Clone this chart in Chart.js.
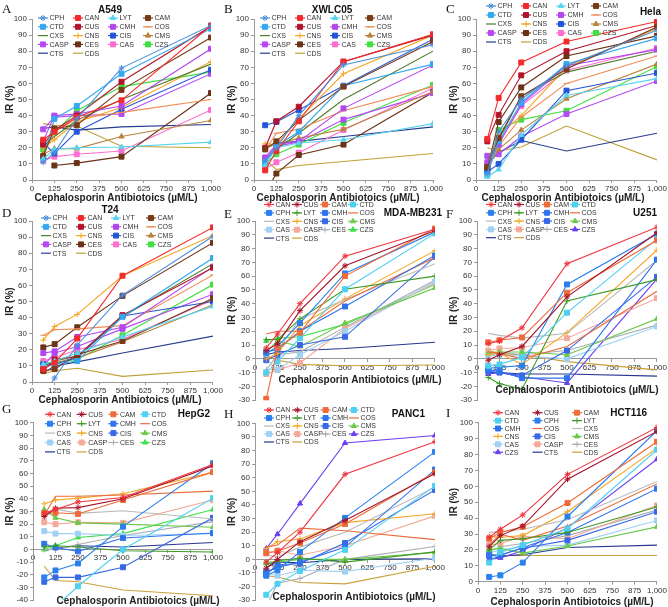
<!DOCTYPE html>
<html>
<head>
<meta charset="utf-8">
<script src="https://cdn.jsdelivr.net/npm/chart.js@4.4.1/dist/chart.umd.min.js"></script>
<style>
html, body { margin: 0; padding: 0; background: #fff; }
body { width: 668px; height: 607px; position: relative; overflow: hidden; }
canvas { position: absolute; }
</style>
</head>
<body>
<script>
// doses (µM/L) used on every panel
var doses = [62.5, 125, 250, 500, 1000];
var xTicks = [0, 125, 250, 375, 500, 625, 750, 875, 1000];

// legend orders
var namesAD = ["CPH", "CAN", "LYT", "CAM", "CTD", "CUS", "CMH", "COS", "CXS", "CNS", "CIS", "CMS", "CASP", "CES", "CAS", "CZS", "CTS", "CDS"];
var namesEI = ["CAN", "CUS", "CAM", "CTD", "CPH", "LYT", "CMH", "COS", "CXS", "CNS", "CIS", "CMS", "CAS", "CASP", "CES", "CZS", "CTS", "CDS"];

// IR (%) per cell line, rows follow the legend order of the panel
var irA549 = [
  [11, 17, 38, 69.5, 96], [25, 30, 39, 49.5, 96], [13, 19, 20, 20.5, 23.5], [15, 32, 34, 56, 88.5],
  [14, 38, 46, 66, 94], [22, 31, 40, 61, 95.5], [24, 40, 41, 46, 81.5], [15, 30, 38, 42, 50],
  [21, 27, 37, 50, 72], [20, 25, 36, 45, 73.5], [23, 16.5, 30, 44, 68.5], [16, 19.5, 19.5, 27, 37],
  [31.5, 39, 40, 41, 66], [null, 9, 10.5, 14.5, 54], [12, 14.5, 16, 18, 43.5], [19, 29.5, 43, 58, 67],
  [32, 33, 31, 33, 34.5], [35, 34, 33.5, 21, 20]
];
var irXWLC05 = [
  [12, 20, 40, 71.5, 84], [6, 18, 36.5, 73.5, 90.5], [9, 20, 23, 25, 35], [19, 24, 37, 58, 86],
  [11, 21, 30, 58.5, 72], [20, 36.5, 45.5, 73.5, 90], [14, 22, 24, 44.5, 71.5], [18.5, 29, 31.5, 43, 58],
  [12, 19, 29, 50, 80], [22.5, 22, 38, 66, 90], [34, 36, 43.5, 58.5, 87.5], [20, 22, 26, 31.5, 55],
  [13, 21, 23.5, 37.5, 54], [-8, 4, 15.5, 22, 54.5], [7, 11, 17, 31, 57], [10, 16, 22, 35.5, 59],
  [20, 23, 24, 27, 33], [13, 6.5, 9, 11.5, 16.5]
];
var irHela = [
  [4, 30, 50, 71, 93], [25.5, 51, 73, 86, 98.5], [2, 6.5, 28, 52.5, 63], [8, 26, 52, 69, 95],
  [3, 24, 48, 72, 88], [24, 40.5, 65, 80, 96], [11, 22, 47, 71, 81], [9, 21, 39, 60, 77],
  [12, 25, 52, 67, 80], [10, 28, 40, 70, 94], [5, 10, 25, 55.5, 66.5], [8, 19, 31, 50.5, 72],
  [15, 16, 27, 41, 61.5], [7, 36, 57.5, 77, 89.5], [9, 23, 46, 68, 82], [6, 31, 37.5, 43, 70.5],
  [10, 17, 24.5, 18, 29], [20, 18, 20.5, 33.5, 12.5]
];
var irT24 = [
  [-8, 2.5, 23, 54, 90.5], [8, 12, 27, 66, 96], [11, 13, 18, 28, 47], [7, 8, 17, 25.5, 52],
  [9, 11, 13, 40.5, 77], [7, 14, 16, 41.5, 71], [18, 19, 28, 34, 71.5], [29, 32.5, 33, 35, 66.5],
  [10, 13, 16, 40.5, 73.5], [26, 34.5, 42, 66, 91], [11, 11, 15, 41, 50], [9, 12, 15, 25, 48],
  [10, 18, 22, 33, 54.5], [21.5, 23.5, 34, 53.5, 86.5], [13, 15, 20, 26.5, 51], [12, 12, 14, 29, 60.5],
  [5.5, 10, 12.5, 18, 28.5], [5, 7, 8.5, 3.5, 7.5]
];
var irMDA = [
  [8, 18, 40, 74.5, 94], [6, 11, 35, 67.5, 93], [-29, 8, 19, 60, 94.5], [-10, -2, 15, 50.5, 91],
  [4, 9, 26, 62, 92], [14, 14, 29, 50.5, 60], [5, 7, 20, 38, 75], [18, 20, 20, 42, 73.5],
  [6, 6, 29, 43, 69], [0, 4, 24, 43.5, 78.5], [-1, 3, 10, 16, 74], [5, 13, 9, 26, 51.5],
  [0, -8, 3, 20, 56], [-11, -8, -3, 22, 55], [-8, 3, 5, 23, 57], [13, 15, 16, 25, 54],
  [3, 5, 6, 7.5, 12], [2, -1, -4, -5, -4.5]
];
var irU251 = [
  [11, 13, 22.5, 69, 95.5], [-1, 3, 9, 45, 91.5], [12, 13.5, 15.5, 48, 86], [-5, -4, 1, 33.5, 87],
  [-7, -6, -5, 54, 90.5], [-13.5, -18, -22, 42, 57.5], [-8, -9, -14, -14, 72], [5, 4, 0, 9, 49],
  [18.5, 17, 15, 18.5, 71.5], [3, 4, -4, 19, 79], [-9, -10, -12, 6, 59.5], [4, 5, 5, 3, 29],
  [2, 3, 2, 0, 23.5], [6, 7.5, 8, 15, 44], [3, 5, 3, 6, 24.5], [-11, -10, -13, -17.5, 58],
  [-10, -10, -11, -11, -12.5], [6, 4, 3, -2, -8]
];
var irHepG2 = [
  [29, 31.5, 37.5, 41, 67], [26, 32.5, 33, 40, 66], [28.5, 29, 28, 39, 61], [-55, -45, -29, 0, 40.5],
  [-22, -16.5, -11, 18, 68], [2, 3, 2, -1, -2], [4.5, 1.5, -1.5, 9, 13], [27, 42, 42, 43, 46],
  [25, 32, 28.5, 30.5, 24], [36, 39, 40.5, 44, 61], [-25.5, -22, -22, -14, 25], [31.5, 25, 21, 20, 17.5],
  [14.5, 12.5, 12.5, 11, 12.5], [21.5, 20, 21.5, 21, 39], [0, 0, 4, 11, 22], [0, 3, 9.5, 12.5, 31.5],
  [-1, 1, 3, 2, 5.5], [-13, -24.5, -25.5, -32, -36.5]
];
var irPANC1 = [
  [-2, 5, 20, 62.5, 86.5], [-6.5, 0, 13, 28.5, 63], [4.5, 6, 12, 26, 64], [-26, -18, -8.5, 7, 54],
  [-12, -8, 5.5, 30.5, 79], [-4, -1, 1, -2, 5.5], [-9, -6, -2, 9, 66], [9, 10.5, 23, 21, 14.5],
  [3, 2, 9, 20, 53], [8, 13, 15, 27, 33.5], [-11, -4, -3, 12, 51], [-2, -2, 0, 0, 5],
  [-10, -12, -8, -9, 1], [5, 6.5, 3, 10, 32], [-35, -17.5, -14, 0, 9.5], [8, 18.5, 41, 85.5, 91],
  [-6, -2, -2.5, 0, 0.5], [-12, -13, -17, -18, -5]
];
var irHCT116 = [
  [28, 33, 42, 67.5, 97], [22, 29, 35, 64.5, 94.5], [27, 31, 34.5, 49.5, 88], [12, 18.5, 23, 33.5, 83],
  [3, 4, 12, 41, 95], [20, 26, 27, 31, 47], [17, 16.5, 21.5, 31, 58.5], [23, 30, 26, 35, 61.5],
  [31, 31.5, 33, 39, 63], [28.5, 28, 29, 44, 84], [16, 17, 21, 26, 44], [20, 21, 18, 22.5, 34.5],
  [18, 20, 22, 23, 38.5], [23, 24, 28.5, 27, 48], [19, 22, 24, 29, 45], [14, 15, 19.5, 34, 77],
  [14, 16, 17, 21.5, 23], [17, 16.5, 16.5, 16.5, 16.5]
];

// colour + marker per drug
var styleAD = {
  CPH: ["#4b8fdf", "star"], CAN: ["#f42b2b", "rect"], LYT: ["#59d3f0", "triangle"], CAM: ["#7b3a18", "rect"],
  CTD: ["#35a8ef", "rect"], CUS: ["#b1142c", "rect"], CMH: ["#b446ee", "rect"], COS: ["#ef8c55", "line"],
  CXS: ["#4e7d2d", null], CNS: ["#f4a622", "cross"], CIS: ["#2656d6", "rect"], CMS: ["#b8843c", "triangle"],
  CASP: ["#b44af4", "rect"], CES: ["#6a3216", "rect"], CAS: ["#fd6ecf", "rect"], CZS: ["#3fe03f", "rect"],
  CTS: ["#253b90", null], CDS: ["#bfa037", null]
};
var styleEI = {
  CAN: ["#f0323c", "star"], CUS: ["#a5142a", "star"], CAM: ["#ef6b3b", "rect"], CTD: ["#4fd0f0", "rect"],
  CPH: ["#2b80ee", "rect"], LYT: ["#3b9a22", "cross"], CMH: ["#2f73ee", "rect"], COS: ["#ec6b3c", null],
  CXS: ["#b9b9b9", null], CNS: ["#f4a724", "cross"], CIS: ["#3868e6", "rect"], CMS: ["#6cc94a", "triangle"],
  CAS: ["#9fd1f3", "rect"], CASP: ["#f4a999", "rect"], CES: ["#a8aeb6", "cross"], CZS: ["#3fdf4d", "triangle"],
  CTS: ["#27368f", null], CDS: ["#c9a037", null]
};
var styleEIp = Object.assign({}, styleEI, { CZS: ["#6b3ff0", "triangle"] });

var FONT = "Arial, 'Liberation Sans', sans-serif";
var XTITLE = "Cephalosporin Antibiotoics (\u00b5M/L)";

var panels = [
  { letter: "A", lx: 0, ly: 0, h: 205, names: namesAD, pal: styleAD, vals: irA549, title: "A549", t: [110, 10, "center"], ymin: 0, area: [32, 19, 211, 180], zero: false, xt: [116, 198], leg: [38, 18, 35, 8.8, 4], lb: 13 },
  { letter: "B", lx: 222, ly: 0, h: 205, names: namesAD, pal: styleAD, vals: irXWLC05, title: "XWLC05", t: [110, 10, "center"], ymin: 0, area: [32, 19, 211, 180], zero: false, xt: [116, 198], leg: [38, 18, 35, 8.8, 4], lb: 13 },
  { letter: "C", lx: 444, ly: 0, h: 205, names: namesAD, pal: styleAD, vals: irHela, title: "Hela", t: [217, 12, "right"], ymin: 0, area: [32, 19, 213, 180], zero: false, xt: [119, 198], leg: [42, 6, 35, 9, 4], lb: 13 },
  { letter: "D", lx: 0, ly: 200, h: 207, names: namesAD, pal: styleAD, vals: irT24, title: "T24", t: [110, 10, "center"], ymin: 0, area: [32, 21, 213, 182], zero: false, xt: [120, 200], leg: [41, 18, 35, 8.8, 4], lb: 17 },
  { letter: "E", lx: 222, ly: 200, h: 207, names: namesEI, pal: styleEI, vals: irMDA, title: "MDA-MB231", t: [220, 13, "right"], ymin: -30, area: [33, 21, 213, 200.5], zero: true, xt: [138, 180], leg: [42, 4.5, 28, 8.4, 4], lb: 18 },
  { letter: "F", lx: 444, ly: 200, h: 207, names: namesEI, pal: styleEIp, vals: irU251, title: "U251", t: [213, 13, "right"], ymin: -30, area: [33, 21, 213, 200.5], zero: true, xt: [133, 190], leg: [42, 4.5, 28, 8.3, 4], lb: 18 },
  { letter: "G", lx: 0, ly: 400, h: 207, names: namesEI, pal: styleEI, vals: irHepG2, title: "HepG2", t: [210, 14, "right"], ymin: -40, area: [33, 22.7, 213, 201.7], zero: true, xt: [138, 201], leg: [45, 14.3, 31.7, 9.4, 4], lb: 13 },
  { letter: "H", lx: 222, ly: 400, h: 207, names: namesEI, pal: styleEIp, vals: irPANC1, title: "PANC1", t: [203, 14, "right"], ymin: -30, area: [33, 23.3, 213, 201.7], zero: true, xt: [132, 197], leg: [42, 10, 28.3, 8, 4], lb: 18 },
  { letter: "I", lx: 444, ly: 400, h: 207, names: namesEI, pal: styleEIp, vals: irHCT116, title: "HCT116", t: [203, 13, "right"], ymin: 0, area: [34, 22.7, 213, 181.7], zero: false, xt: [128, 202], leg: [49, 12.7, 39.5, 7.9, 3], lb: 17 }
];

function pointRadius(style) {
  if (!style) return 0;
  if (style === "rect") return 3.5;
  return 3;
}

function drawMarker(ctx, style, x, y, color) {
  if (!style) return;
  ctx.save();
  ctx.fillStyle = color;
  ctx.strokeStyle = color;
  ctx.lineWidth = 1;
  Chart.helpers.drawPoint(ctx, { pointStyle: style, rotation: 0, radius: pointRadius(style), borderWidth: 1 }, x, y);
  ctx.restore();
}

function decorPlugin(p) {
  return {
    id: "decor" + p.letter,
    afterDraw: function (chart) {
      var ctx = chart.ctx;
      var ca = chart.chartArea;
      ctx.save();
      // panel letter
      ctx.fillStyle = "#111";
      ctx.font = "13px 'Times New Roman', 'Liberation Serif', serif";
      ctx.textAlign = "left";
      ctx.textBaseline = "alphabetic";
      ctx.fillText(p.letter, 2, p.lb);
      // cell line title
      ctx.font = "bold 10px " + FONT;
      ctx.textAlign = p.t[2];
      ctx.textBaseline = "middle";
      ctx.fillText(p.title, p.t[0], p.t[1]);
      // axis titles
      ctx.font = "bold 10px " + FONT;
      ctx.textAlign = "center";
      ctx.fillStyle = "#222";
      ctx.fillText(XTITLE, p.xt[0], p.xt[1]);
      ctx.save();
      ctx.translate(10, (ca.top + ca.bottom) / 2);
      ctx.rotate(-Math.PI / 2);
      ctx.fillText("IR (%)", 0, 0);
      ctx.restore();
      // legend grid
      var lg = p.leg;
      ctx.font = "7px " + FONT;
      ctx.textAlign = "left";
      ctx.textBaseline = "middle";
      p.names.forEach(function (n, i) {
        var st = p.pal[n];
        var col = i % lg[4], row = Math.floor(i / lg[4]);
        var x = lg[0] + col * lg[2], y = lg[1] + row * lg[3];
        ctx.strokeStyle = st[0];
        ctx.lineWidth = 1.2;
        ctx.beginPath();
        ctx.moveTo(x, y);
        ctx.lineTo(x + 10, y);
        ctx.stroke();
        drawMarker(ctx, st[1], x + 5, y, st[0]);
        ctx.fillStyle = "#333";
        ctx.fillText(n, x + 11.5, y + 0.5);
      });
      ctx.restore();
    }
  };
}

panels.forEach(function (p) {
  var w = 224;
  var cv = document.createElement("canvas");
  cv.width = w;
  cv.height = p.h;
  cv.style.left = p.lx + "px";
  cv.style.top = p.ly + "px";
  cv.style.width = w + "px";
  cv.style.height = p.h + "px";
  document.body.appendChild(cv);

  var datasets = p.names.map(function (n, i) {
    var st = p.pal[n];
    return {
      label: n,
      data: doses.map(function (d, j) { return { x: d, y: p.vals[i][j] }; }),
      borderColor: st[0],
      backgroundColor: st[0],
      borderWidth: 1.1,
      pointStyle: st[1] || "circle",
      pointRadius: pointRadius(st[1]),
      pointBorderWidth: 1,
      tension: 0,
      spanGaps: false
    };
  });

  var tickFont = { family: FONT, size: 8 };
  new Chart(cv, {
    type: "line",
    data: { datasets: datasets },
    options: {
      responsive: false,
      animation: false,
      events: [],
      layout: { padding: { left: 0, top: p.area[1], right: w - p.area[2], bottom: 0 } },
      plugins: { legend: { display: false }, title: { display: false }, tooltip: { enabled: false } },
      scales: {
        x: {
          type: "linear",
          position: p.zero ? { y: 0 } : "bottom",
          min: 0, max: 1000,
          afterBuildTicks: function (s) { s.ticks = xTicks.map(function (v) { return { value: v }; }); },
          ticks: { font: tickFont, color: "#333", autoSkip: false, maxRotation: 0, padding: 1 },
          grid: { drawOnChartArea: false, drawTicks: true, tickLength: 3, color: "#999" },
          border: { color: "#999" },
          afterFit: function (s) { s.height = p.h - p.area[3]; }
        },
        y: {
          min: p.ymin, max: 100,
          ticks: { stepSize: 10, font: tickFont, color: "#333", autoSkip: false, padding: 2 },
          grid: { drawOnChartArea: false, drawTicks: true, tickLength: 3, color: "#999" },
          border: { color: "#999" },
          afterFit: function (s) { s.width = p.area[0]; }
        }
      }
    },
    plugins: [decorPlugin(p)]
  });
});
</script>
</body>
</html>
